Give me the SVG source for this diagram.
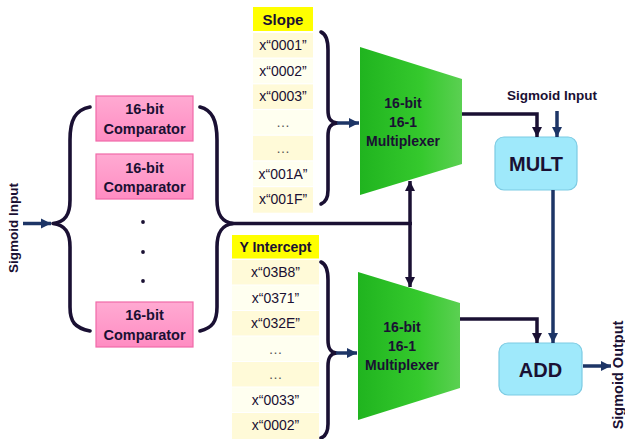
<svg xmlns="http://www.w3.org/2000/svg" width="625" height="439" viewBox="0 0 625 439">
<style>
.t{font-family:"Liberation Sans",Arial,sans-serif;fill:#1a1033;text-anchor:middle}
.b{font-weight:bold}
.cmp{fill:url(#pink);stroke:#f06aa8;stroke-width:1.2}
.mux{fill:url(#green)}
.op{fill:#9fe9fb;stroke:#7ccbe3;stroke-width:1.2}
.brace{fill:none;stroke:#1a1033;stroke-width:3.6;stroke-linecap:round;stroke-linejoin:round}
.dk{fill:none;stroke:#1a1033;stroke-width:3.5}
.nv{fill:none;stroke:#1d3566;stroke-width:3.5}
.ra{fill:#fffad8}
.rb{fill:#fffff0}
.hd{fill:#ffff00}
.row{font-size:14px}
.el{fill:#555}
</style>
<defs>
<linearGradient id="pink" x1="0" y1="0" x2="0" y2="1">
<stop offset="0" stop-color="#ffaad2"/><stop offset="1" stop-color="#ff8cc2"/>
</linearGradient>
<linearGradient id="green" x1="0" y1="0" x2="1" y2="0">
<stop offset="0" stop-color="#20b41f"/><stop offset="0.6" stop-color="#35c92d"/><stop offset="1" stop-color="#5bd052"/>
</linearGradient>
<marker id="aDk" markerUnits="userSpaceOnUse" markerWidth="12" markerHeight="12" viewBox="0 0 12 12" refX="11" refY="6" orient="auto">
<path d="M1,1 L11,6 L1,11 Z" fill="#1a1033"/>
</marker>
<marker id="aNv" markerUnits="userSpaceOnUse" markerWidth="12" markerHeight="12" viewBox="0 0 12 12" refX="11" refY="6" orient="auto">
<path d="M1,1 L11,6 L1,11 Z" fill="#1d3566"/>
</marker>
</defs>

<text class="t b" font-size="13.5" transform="translate(18,228) rotate(-90)">Sigmoid Input</text>

<g id="comp1"><rect class="cmp" x="96" y="96" width="97" height="45"/><text class="t b" x="144.5" y="114" font-size="14.5">16-bit</text><text class="t b" x="144.5" y="133.5" font-size="14.5">Comparator</text></g>
<g id="comp2"><rect class="cmp" x="96" y="154" width="97" height="45"/><text class="t b" x="144.5" y="172.5" font-size="14.5">16-bit</text><text class="t b" x="144.5" y="192" font-size="14.5">Comparator</text></g>
<g id="dots" fill="#1a1033"><circle cx="143" cy="222" r="1.9"/><circle cx="143" cy="252" r="1.9"/><circle cx="143" cy="281" r="1.9"/></g>
<g id="comp3"><rect class="cmp" x="96" y="302" width="97" height="45"/><text class="t b" x="144.5" y="320" font-size="14.5">16-bit</text><text class="t b" x="144.5" y="339.5" font-size="14.5">Comparator</text></g>

<g id="slope">
<rect class="hd" x="253" y="7" width="60" height="24"/>
<text class="t b" x="283" y="24.5" font-size="15">Slope</text>
<rect class="ra" x="253" y="33" width="60" height="24.5"/>
<rect class="rb" x="253" y="58.7" width="60" height="24.5"/>
<rect class="ra" x="253" y="84.4" width="60" height="24.5"/>
<rect class="rb" x="253" y="110.1" width="60" height="24.5"/>
<rect class="ra" x="253" y="135.8" width="60" height="24.5"/>
<rect class="rb" x="253" y="161.5" width="60" height="24.5"/>
<rect class="ra" x="253" y="187.2" width="60" height="25.5"/>
<text class="t row" x="283" y="50">x“0001”</text>
<text class="t row" x="283" y="75.7">x“0002”</text>
<text class="t row" x="283" y="101.4">x“0003”</text>
<text class="t row el" x="283" y="127">…</text>
<text class="t row el" x="283" y="152.8">…</text>
<text class="t row" x="283" y="178.5">x“001A”</text>
<text class="t row" x="283" y="204.2">x“001F”</text>
</g>

<g id="yint">
<rect class="hd" x="232" y="235" width="87" height="23.5"/>
<text class="t b" x="275.5" y="252" font-size="14">Y Intercept</text>
<rect class="ra" x="232" y="260" width="87" height="24.5"/>
<rect class="rb" x="232" y="285.5" width="87" height="24.5"/>
<rect class="ra" x="232" y="311" width="87" height="24.5"/>
<rect class="rb" x="232" y="336.5" width="87" height="24.5"/>
<rect class="ra" x="232" y="362" width="87" height="24.5"/>
<rect class="rb" x="232" y="387.5" width="87" height="24.5"/>
<rect class="ra" x="232" y="413" width="87" height="26"/>
<text class="t row" x="275.5" y="277">x“03B8”</text>
<text class="t row" x="275.5" y="302.5">x“0371”</text>
<text class="t row" x="275.5" y="328">x“032E”</text>
<text class="t row el" x="275.5" y="353.5">…</text>
<text class="t row el" x="275.5" y="379">…</text>
<text class="t row" x="275.5" y="404.5">x“0033”</text>
<text class="t row" x="275.5" y="430">x“0002”</text>
</g>

<g id="mux1"><path class="mux" d="M360,47 L462,79 L462,164 L360,195 Z"/>
<text class="t b" x="403" y="108" font-size="14">16-bit</text>
<text class="t b" x="403" y="127" font-size="14">16-1</text>
<text class="t b" x="403" y="146" font-size="14">Multiplexer</text></g>
<g id="mux2"><path class="mux" d="M358,272 L460,303 L460,388 L358,420 Z"/>
<text class="t b" x="402" y="332" font-size="14">16-bit</text>
<text class="t b" x="402" y="351" font-size="14">16-1</text>
<text class="t b" x="402" y="370" font-size="14">Multiplexer</text></g>

<g id="mult"><rect class="op" x="495" y="137" width="82" height="53" rx="9"/><text class="t b" x="536" y="170.5" font-size="20">MULT</text></g>
<g id="add"><rect class="op" x="499" y="343" width="83" height="52" rx="9"/><text class="t b" x="540.5" y="376.5" font-size="20">ADD</text></g>

<text class="t b" x="552" y="100" font-size="13.5">Sigmoid Input</text>
<text class="t b" font-size="14.5" transform="translate(623,375) rotate(-90)">Sigmoid Output</text>

<g id="connectors">
<path class="brace" d="M90,107 C75,110 70,120 70,140 L70,200 C70,215 65,222 53,223.5 C65,225 70,232 70,247 L70,307 C70,322 75,328 90,331"/>
<path class="brace" d="M200,107 C212,110 217,120 217,140 L217,200 C217,215 222,222 233,223.5 C222,225 217,232 217,247 L217,307 C217,322 212,328 200,331"/>
<path class="brace" d="M321,32 C326,34 328,40 328,50 L328,110 C328,118 330,122 337,123 C330,124 328,128 328,136 L328,190 C328,198 326,202 321,204"/>
<path class="brace" d="M321,262 C326,264 328,270 328,280 L328,340 C328,348 330,352 336,353 C330,354 328,358 328,366 L328,424 C328,432 326,436 321,438"/>
<line class="nv" x1="23" y1="223.5" x2="51" y2="223.5" marker-end="url(#aNv)"/>
<line class="nv" x1="337" y1="123" x2="359" y2="123" marker-end="url(#aNv)"/>
<line class="nv" x1="336" y1="353" x2="357" y2="353" marker-end="url(#aNv)"/>
<line class="dk" x1="231" y1="223.5" x2="411.75" y2="223.5"/>
<line class="dk" x1="410" y1="225" x2="410" y2="181" marker-end="url(#aDk)"/>
<line class="dk" x1="410" y1="222" x2="410" y2="287" marker-end="url(#aDk)"/>
<path class="dk" d="M462,114 L537,114 L537,137" marker-end="url(#aDk)"/>
<path class="dk" d="M460,319 L537,319 L537,343" marker-end="url(#aDk)"/>
<line class="nv" x1="557" y1="111" x2="557" y2="137" marker-end="url(#aNv)"/>
<line class="nv" x1="553" y1="190" x2="553" y2="343" marker-end="url(#aNv)"/>
<line class="nv" x1="583" y1="366" x2="611" y2="366" marker-end="url(#aNv)"/>
</g>
</svg>
